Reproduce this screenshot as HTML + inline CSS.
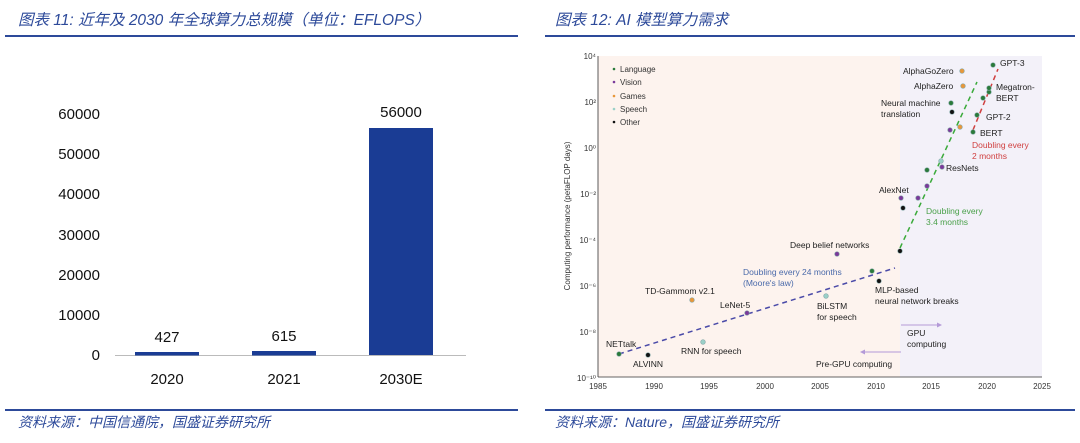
<!DOCTYPE html><html><head><meta charset="utf-8"><style>
body{margin:0;width:1080px;height:438px;background:#fff;overflow:hidden;font-family:"Liberation Sans","Noto Sans CJK SC",sans-serif}
</style></head><body>
<svg width="1080" height="438" xmlns="http://www.w3.org/2000/svg" font-family="Liberation Sans, Noto Sans CJK SC, sans-serif">
<g fill="#2d4a9a" font-style="italic" font-size="15.5">
<text x="18" y="25">图表 11:  近年及 2030 年全球算力总规模（单位：EFLOPS）</text>
<text x="555" y="25">图表 12:  AI 模型算力需求</text>
<text x="18" y="427" font-size="14">资料来源：中国信通院，国盛证券研究所</text>
<text x="555" y="427" font-size="14">资料来源：Nature，国盛证券研究所</text>
</g>
<rect x="5" y="35" width="513" height="2" fill="#2d4a9a"/>
<rect x="545" y="35" width="530" height="2" fill="#2d4a9a"/>
<rect x="5" y="409" width="513" height="2" fill="#2d4a9a"/>
<rect x="545" y="409" width="530" height="2" fill="#2d4a9a"/>
<g font-size="15" fill="#111" text-anchor="end">
<text x="100" y="119">60000</text><text x="100" y="159">50000</text><text x="100" y="199">40000</text>
<text x="100" y="240">30000</text><text x="100" y="280">20000</text><text x="100" y="320">10000</text><text x="100" y="360">0</text>
</g>
<line x1="115" y1="355.5" x2="466" y2="355.5" stroke="#bbb"/>
<rect x="135" y="352" width="64" height="3.5" fill="#1a3c94"/>
<rect x="252" y="351" width="64" height="4.5" fill="#1a3c94"/>
<rect x="369" y="128" width="64" height="227" fill="#1a3c94"/>
<g font-size="15" fill="#111" text-anchor="middle">
<text x="167" y="342">427</text><text x="284" y="341">615</text><text x="401" y="117">56000</text>
<text x="167" y="384">2020</text><text x="284" y="384">2021</text><text x="401" y="384">2030E</text>
</g>
<rect x="598" y="56" width="302" height="321" fill="#fdf3ee"/>
<rect x="900" y="56" width="142" height="321" fill="#f3f1f9"/>
<line x1="598" y1="56" x2="598" y2="377" stroke="#333" stroke-width="0.8"/>
<line x1="598" y1="377" x2="1042" y2="377" stroke="#333" stroke-width="0.8"/>
<g font-size="8" fill="#333" text-anchor="end">
<text x="596" y="59">10⁴</text><text x="596" y="105">10²</text><text x="596" y="151">10⁰</text>
<text x="596" y="197">10⁻²</text><text x="596" y="243">10⁻⁴</text><text x="596" y="289">10⁻⁶</text>
<text x="596" y="335">10⁻⁸</text><text x="596" y="381">10⁻¹⁰</text>
</g>
<g font-size="8" fill="#333" text-anchor="middle">
<text x="598" y="389">1985</text><text x="654" y="389">1990</text><text x="709" y="389">1995</text><text x="765" y="389">2000</text>
<text x="820" y="389">2005</text><text x="876" y="389">2010</text><text x="931" y="389">2015</text><text x="987" y="389">2020</text><text x="1042" y="389">2025</text>
</g>
<text transform="translate(570,216) rotate(-90)" font-size="8" fill="#333" text-anchor="middle">Computing performance (petaFLOP days)</text>
<g font-size="8" fill="#333">
<circle cx="614" cy="69" r="1.3" fill="#2a7a3a"/><text x="620" y="72">Language</text>
<circle cx="614" cy="82" r="1.3" fill="#7a3a9a"/><text x="620" y="85">Vision</text>
<circle cx="614" cy="96" r="1.3" fill="#e8973a"/><text x="620" y="99">Games</text>
<circle cx="614" cy="109" r="1.3" fill="#9ad0c8"/><text x="620" y="112">Speech</text>
<circle cx="614" cy="122" r="1.3" fill="#111"/><text x="620" y="125">Other</text>
</g>
<line x1="619" y1="354" x2="895" y2="268" stroke="#4a4aa8" stroke-width="1.5" stroke-dasharray="5,4"/>
<line x1="900" y1="248" x2="977" y2="82" stroke="#3aaa3a" stroke-width="1.5" stroke-dasharray="5,4"/>
<line x1="973" y1="130" x2="998" y2="69" stroke="#d04040" stroke-width="1.5" stroke-dasharray="5,4"/>
<g stroke="#8aa" stroke-width="0.7">
<circle cx="619" cy="354" r="2.3" fill="#2a7a3a"/><circle cx="648" cy="355" r="2.3" fill="#111"/>
<circle cx="703" cy="342" r="2.3" fill="#9ad0c8"/><circle cx="692" cy="300" r="2.3" fill="#e8973a"/>
<circle cx="747" cy="313" r="2.3" fill="#7a3a9a"/><circle cx="826" cy="296" r="2.3" fill="#9ad0c8"/>
<circle cx="837" cy="254" r="2.3" fill="#7a3a9a"/><circle cx="872" cy="271" r="2.3" fill="#2a7a3a"/>
<circle cx="879" cy="281" r="2.3" fill="#111"/><circle cx="900" cy="251" r="2.3" fill="#111"/>
<circle cx="901" cy="198" r="2.3" fill="#7a3a9a"/><circle cx="903" cy="208" r="2.3" fill="#111"/>
<circle cx="918" cy="198" r="2.3" fill="#7a3a9a"/><circle cx="927" cy="186" r="2.3" fill="#7a3a9a"/>
<circle cx="927" cy="170" r="2.3" fill="#2a7a3a"/><circle cx="941" cy="161" r="2.3" fill="#9ad0c8"/>
<circle cx="942" cy="167" r="2.3" fill="#7a3a9a"/><circle cx="950" cy="130" r="2.3" fill="#7a3a9a"/>
<circle cx="960" cy="127" r="2.3" fill="#e8973a"/><circle cx="952" cy="112" r="2.3" fill="#111"/>
<circle cx="951" cy="103" r="2.3" fill="#2a7a3a"/><circle cx="963" cy="86" r="2.3" fill="#e8973a"/>
<circle cx="962" cy="71" r="2.3" fill="#e8973a"/><circle cx="973" cy="132" r="2.3" fill="#2a7a3a"/>
<circle cx="977" cy="115" r="2.3" fill="#2a7a3a"/><circle cx="983" cy="98" r="2.3" fill="#2a7a3a"/>
<circle cx="989" cy="92" r="2.3" fill="#2a7a3a"/><circle cx="989" cy="88" r="2.3" fill="#2a7a3a"/>
<circle cx="993" cy="65" r="2.3" fill="#2a7a3a"/>
</g>
<g font-size="8.5" fill="#222">
<text x="606" y="347">NETtalk</text><text x="633" y="367">ALVINN</text>
<text x="681" y="354">RNN for speech</text><text x="645" y="294">TD-Gammom v2.1</text>
<text x="720" y="308">LeNet-5</text><text x="817" y="309">BiLSTM</text><text x="817" y="320">for speech</text>
<text x="790" y="248">Deep belief networks</text>
<text x="875" y="293">MLP-based</text><text x="875" y="304">neural network breaks</text>
<text x="879" y="193">AlexNet</text><text x="946" y="171">ResNets</text>
<text x="881" y="106">Neural machine</text><text x="881" y="117">translation</text>
<text x="914" y="89">AlphaZero</text><text x="903" y="74">AlphaGoZero</text>
<text x="1000" y="66">GPT-3</text><text x="996" y="90">Megatron-</text><text x="996" y="101">BERT</text>
<text x="986" y="120">GPT-2</text><text x="980" y="136">BERT</text>
<text x="907" y="336">GPU</text><text x="907" y="347">computing</text>
<text x="816" y="367">Pre-GPU computing</text>
</g>
<g font-size="8.5"><text x="743" y="275" fill="#4a6aaa">Doubling every 24 months</text><text x="743" y="286" fill="#4a6aaa">(Moore's law)</text>
<text x="926" y="214" fill="#4aa04a">Doubling every</text><text x="926" y="225" fill="#4aa04a">3.4 months</text>
<text x="972" y="148" fill="#d04040">Doubling every</text><text x="972" y="159" fill="#d04040">2 months</text></g>
<line x1="901" y1="325" x2="940" y2="325" stroke="#b49ad8" stroke-width="1"/><path d="M942 325l-5-2.5v5z" fill="#b49ad8"/>
<line x1="862" y1="352" x2="901" y2="352" stroke="#b49ad8" stroke-width="1"/><path d="M860 352l5-2.5v5z" fill="#b49ad8"/>
</svg>
</body></html>
